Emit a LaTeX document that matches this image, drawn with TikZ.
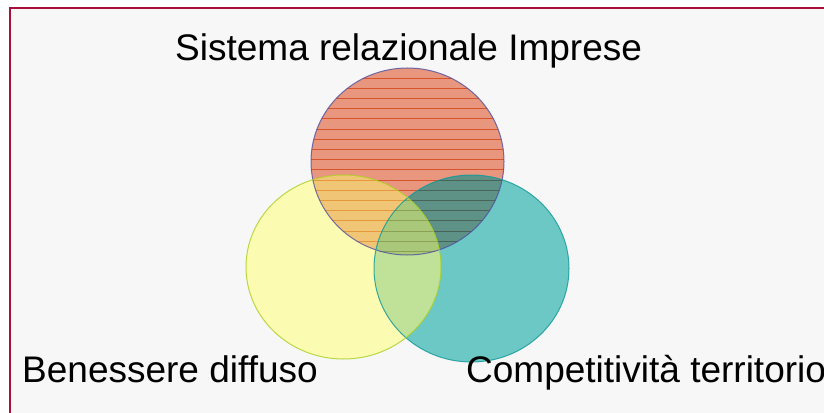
\documentclass[tikz,border=0pt]{standalone}
\usepackage{fontspec}
\setmainfont{Liberation Sans}
\definecolor{bg}{RGB}{247,247,247}
\definecolor{frame}{RGB}{168,16,60}
\definecolor{cR}{RGB}{232,150,126}
\definecolor{cRl}{RGB}{214,84,44}
\definecolor{cY}{RGB}{252,251,178}
\definecolor{cT}{RGB}{108,200,196}
\definecolor{cRY}{RGB}{240,198,118}
\definecolor{cRYl}{RGB}{230,152,60}
\definecolor{cRT}{RGB}{94,146,134}
\definecolor{cRTl}{RGB}{72,100,88}
\definecolor{cYT}{RGB}{192,226,152}
\definecolor{cRYT}{RGB}{170,200,122}
\definecolor{cRYTl}{RGB}{140,160,84}
\definecolor{bR}{RGB}{80,80,160}
\definecolor{bY}{RGB}{170,208,32}
\definecolor{bT}{RGB}{16,152,152}
\def\Rp{(407.5,161.5) ellipse [x radius=96.5pt, y radius=93.5pt]}
\def\Yp{(343.5,267) ellipse [x radius=97.5pt, y radius=92pt]}
\def\Tp{(471.5,268.5) ellipse [x radius=97.5pt, y radius=93.5pt]}
\begin{document}
\begin{tikzpicture}[x=1pt,y=-1pt,
  lbl/.style={inner sep=0pt, anchor=base west, font=\fontsize{37}{44}\selectfont, text=black},
  hatch/.style={line width=0.75pt}]
\useasboundingbox (0,0) rectangle (824,412);
\clip (0,0) rectangle (824,412);
\fill[white] (0,0) rectangle (824,412);
\fill[bg] (10,8) rectangle (830,420);
\draw[frame, line width=2pt] (10,8) rectangle (830,420);
% base fills
\fill[cR] \Rp;
\fill[cY] \Yp;
\fill[cT] \Tp;
\begin{scope}\clip \Rp; \fill[cRY] \Yp; \fill[cRT] \Tp; \end{scope}
\begin{scope}\clip \Yp; \fill[cYT] \Tp; \end{scope}
\begin{scope}\clip \Rp; \clip \Yp; \fill[cRYT] \Tp; \end{scope}
% hatch lines
\begin{scope}\clip \Rp;
  \foreach \i in {0,...,17} {\draw[hatch,cRl] (300,78+10.2*\i) -- (515,78+10.2*\i);}
\end{scope}
\begin{scope}\clip \Rp; \clip \Yp;
  \foreach \i in {0,...,17} {\draw[hatch,cRYl] (300,78+10.2*\i) -- (515,78+10.2*\i);}
\end{scope}
\begin{scope}\clip \Rp; \clip \Tp;
  \foreach \i in {0,...,17} {\draw[hatch,cRTl] (300,78+10.2*\i) -- (515,78+10.2*\i);}
\end{scope}
\begin{scope}\clip \Rp; \clip \Yp; \clip \Tp;
  \foreach \i in {0,...,17} {\draw[hatch,cRYTl] (300,78+10.2*\i) -- (515,78+10.2*\i);}
\end{scope}
% outlines
\draw[bR, line width=1pt, draw opacity=0.8] \Rp;
\draw[bT, line width=1pt, draw opacity=0.8] \Tp;
\draw[bY, line width=1pt, draw opacity=0.8] \Yp;
% labels
\node[lbl] (lblR) at (175,60) {Sistema relazionale Imprese};
\node[lbl] (lblY) at (22,382) {Benessere diffuso};
\node[lbl] (lblT) at (466,382) {Competitività territorio};
\end{tikzpicture}
\end{document}
